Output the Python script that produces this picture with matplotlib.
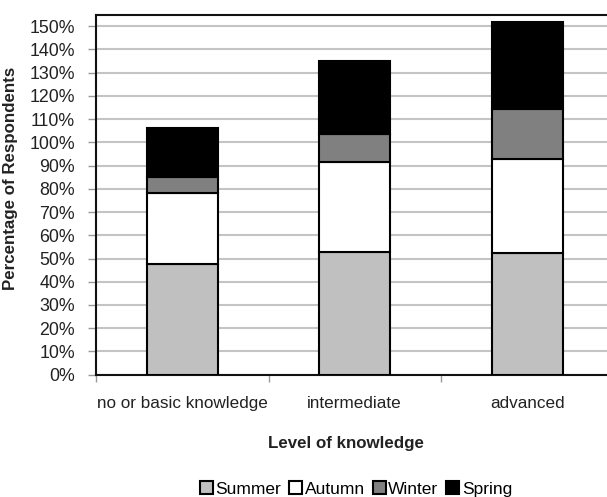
import matplotlib
matplotlib.use("Agg")
import matplotlib.pyplot as plt
from matplotlib.patches import Patch

plt.rcParams['font.family'] = ['Liberation Sans', 'DejaVu Sans']

categories = ["no or basic knowledge", "intermediate", "advanced"]
series_names = ["Summer", "Autumn", "Winter", "Spring"]
summer = [47.5, 53.0, 52.3]
autumn = [30.6, 38.4, 40.7]
winter = [6.9, 12.3, 21.4]
spring = [21.2, 31.2, 37.4]
yticks = list(range(0, 151, 10))
ytick_labels = [f"{v}%" for v in yticks]

colors = ["#c0c0c0", "#ffffff", "#808080", "#000000"]

W, H = 607, 497
ax_left, ax_top, ax_bottom = 96, 15, 374.7

fig = plt.figure(figsize=(W / 100, H / 100), dpi=100)
ax = fig.add_axes([ax_left / W, (H - ax_bottom) / H, 1 - ax_left / W, (ax_bottom - ax_top) / H])
ax_w, ax_h = W - ax_left, ax_bottom - ax_top

x = list(range(len(categories)))
bottom = [0.0] * len(categories)
for name, vals, col in zip(series_names, [summer, autumn, winter, spring], colors):
    ax.bar(x, vals, width=0.41, bottom=bottom, color=col, edgecolor="black",
           linewidth=1.5, label=name, zorder=3)
    bottom = [b + v for b, v in zip(bottom, vals)]

ax.set_ylim(0, 154.8)
ax.set_xlim(-0.5, 2.5 - 6.5 / 172.5)
ax.set_yticks(yticks)
ax.set_yticklabels(ytick_labels)
ax.yaxis.grid(True, color="#c4c4c4", linewidth=1.5, zorder=0)
ax.set_axisbelow(True)

# category labels centred under bars, ticks on the category boundaries
ax.set_xticks([-0.5, 0.5, 1.5])
ax.set_xticklabels([])
ax.set_xticks(x, minor=True)
ax.set_xticklabels(categories, minor=True)
ax.tick_params(axis="x", which="minor", length=0, pad=15, labelsize=12.3, colors="#222222")
ax.tick_params(axis="x", which="major", length=5, color="#999999", width=1)
ax.tick_params(axis="y", length=6, color="#999999", width=1, labelsize=12.8,
               labelcolor="#222222", pad=9)

for side in ["left", "bottom", "top"]:
    ax.spines[side].set_color("#111111")
    ax.spines[side].set_linewidth(1.5)
ax.spines["right"].set_visible(False)

ax.set_xlabel("Level of knowledge", fontsize=12.2, fontweight="bold", color="#222222")
ax.xaxis.set_label_coords((346 - ax_left) / ax_w, -(435.7 - ax_bottom) / ax_h)
ax.set_ylabel("Percentage of Respondents", fontsize=12.2, fontweight="bold", color="#222222")
ax.yaxis.set_label_coords(-(ax_left - 18) / ax_w, (ax_bottom - 178) / ax_h)

handles = [Patch(facecolor=c, edgecolor="black", linewidth=1.5) for c in colors]
fig.legend(handles, series_names, loc="center", bbox_to_anchor=(356 / W, 1 - 489 / H),
           ncol=4, frameon=False, fontsize=12.5, handlelength=0.75, handleheight=0.75,
           handletextpad=0.15, columnspacing=0.45, borderpad=0.1)

fig.savefig("out.png", dpi=100)
